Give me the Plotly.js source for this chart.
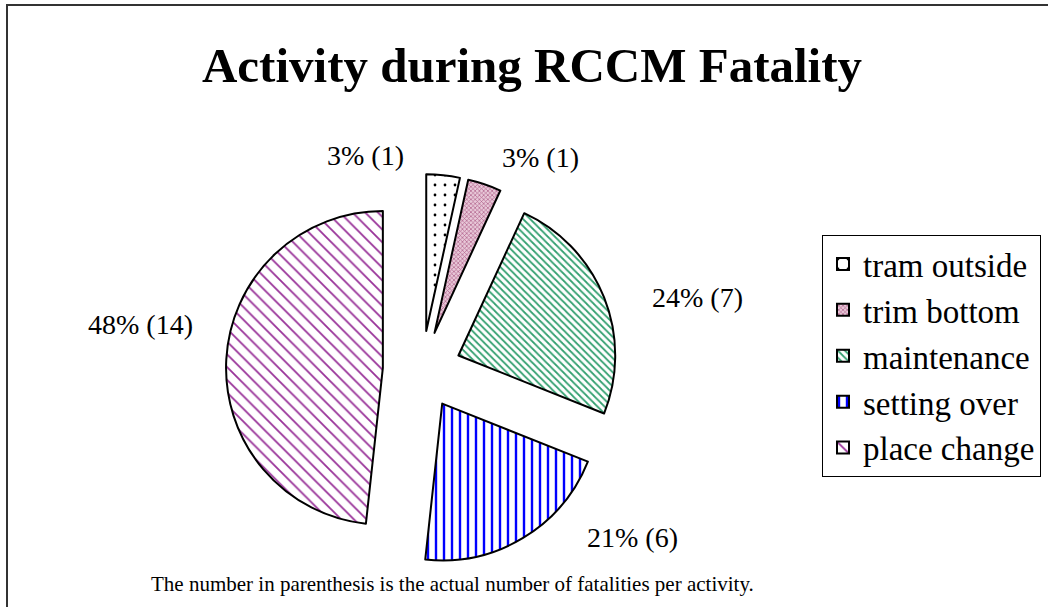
<!DOCTYPE html>
<html>
<head>
<meta charset="utf-8">
<script src="https://cdn.plot.ly/plotly-3.0.1.min.js"></script>
<style>html,body{margin:0;padding:0;background:#fff;}#chart{width:1048px;height:607px;}</style>
</head>
<body>
<div id="chart"></div>
<script>
const categories = ["tram outside", "trim bottom", "maintenance", "setting over", "place change"];
const fatalities = [1, 1, 7, 6, 14];
const titleText = "Activity during RCCM Fatality";
const noteText = "The number in parenthesis is the actual number of fatalities per activity.";

const W = 1048, H = 607;
const total = fatalities.reduce((a, b) => a + b, 0);
const labelText = fatalities.map(v => Math.round(100 * v / total) + "% (" + v + ")");

const patterns = [
  {shape: ".", fgcolor: "#000000", bgcolor: "#ffffff", size: 10, solidity: 0.06},
  {shape: "x", fgcolor: "#b0608a", bgcolor: "#e8c8d8", size: 3, solidity: 0.4},
  {shape: "\\", fgcolor: "#33a070", bgcolor: "#ffffff", size: 5, solidity: 0.35},
  {shape: "|", fgcolor: "#0000ff", bgcolor: "#ffffff", size: 8, solidity: 0.3},
  {shape: "\\", fgcolor: "#993399", bgcolor: "#ffffff", size: 9, solidity: 0.2}
];

const px = x => x / W;
const py = y => 1 - y / H;

const trace = {
  type: "pie",
  labels: categories,
  values: fatalities,
  sort: false,
  direction: "clockwise",
  rotation: 0,
  pull: [0.25, 0.25, 0.25, 0.25, 0.25],
  textinfo: "none",
  hoverinfo: "label+value+percent",
  domain: {x: [px(226), px(618)], y: [py(566), py(174)]},
  marker: {
    colors: patterns.map(p => p.bgcolor),
    line: {color: "#000000", width: 2},
    pattern: {
      shape: patterns.map(p => p.shape),
      fgcolor: patterns.map(p => p.fgcolor),
      bgcolor: patterns.map(p => p.bgcolor),
      size: patterns.map(p => p.size),
      solidity: patterns.map(p => p.solidity),
      fillmode: "replace"
    }
  }
};

const labelPos = [[365, 155], [540, 157], [697, 297], [632, 537], [140, 325]];
const annotations = labelText.map((t, i) => ({
  text: t, x: px(labelPos[i][0]), y: py(labelPos[i][1]), xref: "paper", yref: "paper",
  showarrow: false, xanchor: "center", yanchor: "middle",
  font: {family: "Liberation Serif, serif", size: 28, color: "#000"}
}));
annotations.push({
  text: noteText, x: px(452), y: py(584), xref: "paper", yref: "paper",
  showarrow: false, xanchor: "center", yanchor: "middle",
  font: {family: "Liberation Serif, serif", size: 21, color: "#000"}
});

const layout = {
  width: W, height: H,
  margin: {l: 0, r: 0, t: 0, b: 0, autoexpand: false},
  paper_bgcolor: "#ffffff",
  title: {
    text: "<b>" + titleText + "</b>",
    x: px(532), xanchor: "center", y: py(65), yanchor: "middle",
    font: {family: "Liberation Serif, serif", size: 49, color: "#000"}
  },
  showlegend: true,
  legend: {
    x: px(822), y: py(235), xanchor: "left", yanchor: "top",
    bordercolor: "#000", borderwidth: 1, bgcolor: "#fff",
    font: {family: "Liberation Serif, serif", size: 33, color: "#000"},
    traceorder: "normal"
  },
  annotations: annotations,
  shapes: [{
    type: "rect", xref: "paper", yref: "paper",
    x0: px(7), x1: 1.02, y0: -0.02, y1: py(5),
    line: {color: "#333", width: 2}, fillcolor: "rgba(0,0,0,0)"
  }]
};

Plotly.newPlot("chart", [trace], layout, {displayModeBar: false, staticPlot: true});
</script>
</body>
</html>
